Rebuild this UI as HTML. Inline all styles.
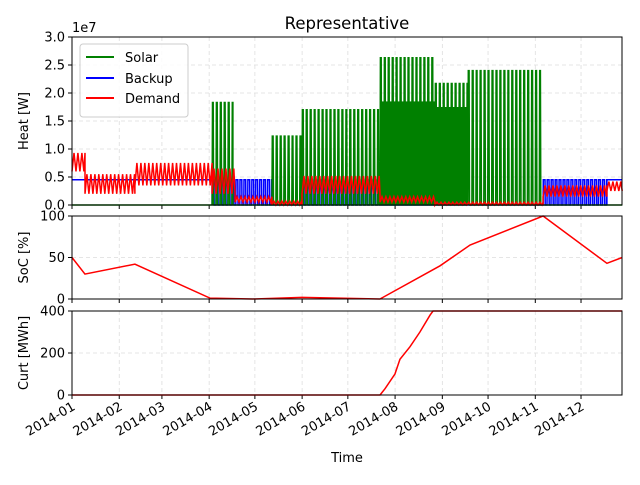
<!DOCTYPE html>
<html><head><meta charset="utf-8"><style>
body{margin:0;background:#fff}
svg{font-family:"DejaVu Sans","Liberation Sans",sans-serif}
</style></head><body>
<svg id="c" width="640" height="480" viewBox="0 0 640 480"></svg>
<script>
// ---- data (days since 2014-01-01) ----
const monthLabels=["2014-01","2014-02","2014-03","2014-04","2014-05","2014-06","2014-07","2014-08","2014-09","2014-10","2014-11","2014-12"];
const monthDays=[0,31,59,90,120,151,181,212,243,273,304,334];
// segments: [startDay,endDay,low,high] in 1e7 W
const solarSeg=[[0,91.9,0,0],[91.9,105.6,0,1.83],[105.6,131.2,0,0],[131.2,150.9,0,1.23],[150.9,202.1,0,1.7],[202.1,238.2,0,2.63],[238.2,259.8,0,2.17],[259.8,309.1,0,2.4],[309.1,361,0,0]];
const solarFill=[[202.1,238.2,1.85],[238.2,259.8,1.75]];
const backupSeg=[[0,91.9,0.45,0.45],[91.9,131.2,0,0.45],[131.2,150.9,0,0],[150.9,202.1,0,0.45],[202.1,309.1,0,0],[309.1,351,0,0.45],[351,361,0.45,0.45]];
const demandSeg=[[0,8.5,0.6,0.93],[8.5,41.3,0.2,0.55],[41.3,91.9,0.35,0.75],[91.9,107,0.2,0.65],[107,131.2,0.05,0.15],[131.2,150.9,0,0.07],[150.9,202.1,0.2,0.52],[202.1,238.2,0.05,0.15],[238.2,309.1,0,0.05],[309.1,351,0.15,0.35],[351,361,0.25,0.42]];
const socDays=[0,8.5,41.3,90.6,118.8,150.9,202.1,241.5,261.2,309.1,351,361];
const socVals=[50,30,42,1,0,2,0,40,65,100,43,50];
const curtDays=[0,202.1,205.4,211.9,215.2,221.8,228.3,234.9,236.9,361];
const curtVals=[0,0,30,100,170,230,300,380,400,400];
const heatTicks=[0,0.5,1.0,1.5,2.0,2.5,3.0];
const socTicks=[0,50,100];
const curtTicks=[0,200,400];
// ---- layout ----
const L=72,R=622;
const x=d=>L+d*1.524;
const P1={t:37,b:205,max:3},P2={t:216,b:299,max:100},P3={t:311,b:395,max:400};
const y=(p,v)=>p.b-(v/p.max)*(p.b-p.t);
const svg=document.getElementById('c');
const NS='http://www.w3.org/2000/svg';
function mk(tag,attrs,parent){const e=document.createElementNS(NS,tag);for(const k in attrs)e.setAttribute(k,attrs[k]);(parent||svg).appendChild(e);return e;}
function txt(s,attrs){const e=mk('text',attrs);e.textContent=s;return e;}
function panel(p,ticks,fmt,label,name){
  const g=mk('g',{});
  
  
  monthDays.forEach(d=>{const l=mk('line',{x1:x(d),x2:x(d),y1:p.t,y2:p.b,stroke:'#ddd','stroke-dasharray':'4,3','stroke-width':0.8},g);
    
    const tk=mk('line',{x1:x(d),x2:x(d),y1:p.b,y2:p.b+4,stroke:'#000'},g);
    });
  ticks.forEach(v=>{const yy=y(p,v);
    const l=mk('line',{x1:L,x2:R,y1:yy,y2:yy,stroke:'#ddd','stroke-dasharray':'4,3','stroke-width':0.8},g);
    
    const tk=mk('line',{x1:L-4,x2:L,y1:yy,y2:yy,stroke:'#000'},g);
    
    const t=txt(fmt(v),{x:L-7,y:yy+4.5,'text-anchor':'end','font-size':13});
    });
  const yl=txt(label,{x:0,y:0,'font-size':13,'text-anchor':'middle',transform:`translate(28,${(p.t+p.b)/2}) rotate(-90)`});
  
  return g;
}
function frame(p,name){const r=mk('rect',{x:L,y:p.t,width:R-L,height:p.b-p.t,fill:'none',stroke:'#000','stroke-width':1});
  }
panel(P1,heatTicks,v=>v.toFixed(1),'Heat [W]','heat');
panel(P2,socTicks,v=>String(v),'SoC [%]','soc');
panel(P3,curtTicks,v=>String(v),'Curt [MWh]','curt');
// oscillating series: shape 'spike' (narrow up-pulse), 'tri' (zigzag), 'sq'
function oscPath(segs,period,shape){let pts=[];
  segs.forEach(s=>{const[a,b,lo,hi]=s;
    if(lo===hi){pts.push([a,lo],[b,lo]);return;}
    for(let t=a;t<b;t+=period){
      const c=k=>Math.min(t+period*k,b);
      if(shape==='tri'){pts.push([t,lo],[c(0.5),hi]);}
      else if(shape==='spike'){pts.push([t,lo],[c(0.1),hi],[c(0.3),hi],[c(0.4),lo]);}
      else{pts.push([t,lo],[c(0.05),hi],[c(0.5),hi],[c(0.55),lo]);}
    }
    pts.push([b,lo]);});
  return 'M'+pts.map(q=>x(q[0]).toFixed(1)+','+y(P1,q[1]).toFixed(1)).join('L');}
const sf=mk('g',{});

solarFill.forEach(f=>{mk('rect',{x:x(f[0]),y:y(P1,f[2]),width:x(f[1])-x(f[0]),height:P1.b-y(P1,f[2]),fill:'green'},sf);});
const bk=mk('path',{d:oscPath(backupSeg,2.6,'sq'),fill:'none',stroke:'blue','stroke-width':1.5});

const so=mk('path',{d:oscPath(solarSeg,2.6,'spike'),fill:'none',stroke:'green','stroke-width':1.5});

const de=mk('path',{d:oscPath(demandSeg,2.6,'tri'),fill:'none',stroke:'red','stroke-width':1.5});

const soc=mk('path',{d:'M'+socDays.map((d,i)=>x(d)+','+y(P2,socVals[i])).join('L'),fill:'none',stroke:'red','stroke-width':1.5});

const cu=mk('path',{d:'M'+curtDays.map((d,i)=>x(d)+','+y(P3,curtVals[i])).join('L'),fill:'none',stroke:'red','stroke-width':1.5});

const m=mk('rect',{x:R+1,y:30,width:18,height:380,fill:'#fff'});

frame(P1,'heat');frame(P2,'soc');frame(P3,'curt');
monthDays.forEach((d,i)=>{const t=txt(monthLabels[i],{x:0,y:0,'font-size':13,'text-anchor':'end',transform:`translate(${x(d)+4},${P3.b+14}) rotate(-30)`});
  });
const xt=txt('Time',{x:347,y:462,'font-size':13,'text-anchor':'middle'});

const ti=txt('Representative',{x:347,y:29,'font-size':16.5,'text-anchor':'middle'});

const off=txt('1e7',{x:L,y:32,'font-size':13});

const lg=mk('g',{});

mk('rect',{x:80,y:44,width:108,height:73,rx:3,fill:'#fff','fill-opacity':0.85,stroke:'#ccc'},lg);
[['Solar','green',57],['Backup','blue',78],['Demand','red',98]].forEach(e=>{
  const g=mk('g',{},lg);
  
  mk('line',{x1:86,x2:114,y1:e[2],y2:e[2],stroke:e[1],'stroke-width':2},g);
  const t=mk('text',{x:125,y:e[2]+5,'font-size':13},g);t.textContent=e[0];});
</script>
</body></html>
